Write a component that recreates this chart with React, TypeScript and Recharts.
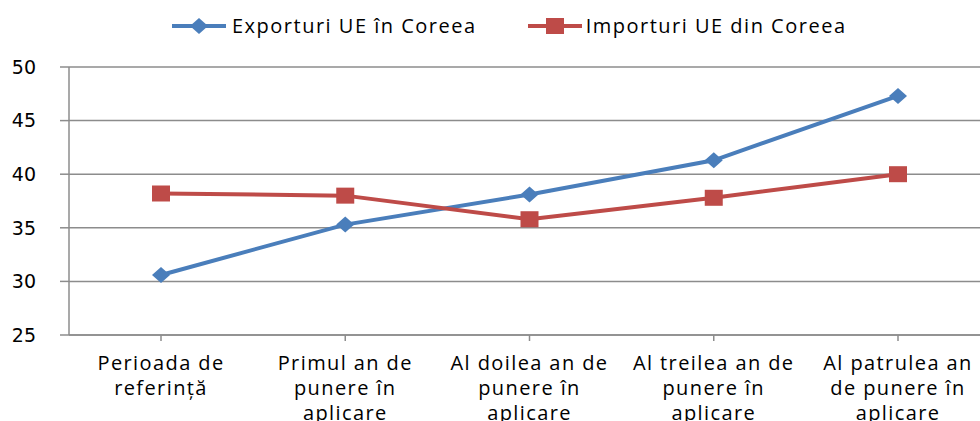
import { LineChart, Line, XAxis, YAxis, CartesianGrid } from 'recharts';

// Categories (x axis labels, split into lines as in the original)
const categories = [
  'Perioada de referință',
  'Primul an de punere în aplicare',
  'Al doilea an de punere în aplicare',
  'Al treilea an de punere în aplicare',
  'Al patrulea an de punere în aplicare',
];
const categoryLines = [
  ['Perioada de', 'referință'],
  ['Primul an de', 'punere în', 'aplicare'],
  ['Al doilea an de', 'punere în', 'aplicare'],
  ['Al treilea an de', 'punere în', 'aplicare'],
  ['Al patrulea an', 'de punere în', 'aplicare'],
];

const exportValues = [30.6, 35.3, 38.1, 41.3, 47.3];
const importValues = [38.2, 38.0, 35.8, 37.8, 40.0];

const yTicks = [25, 30, 35, 40, 45, 50];

const seriesNames = ['Exporturi UE în Coreea', 'Importuri UE din Coreea'];

const BLUE = '#4A7EBB';
const RED = '#BE4B48';
const GRID = '#8C8C8C';
const LABEL_FONT = '"Open Sans", sans-serif';

const chartData = categories.map((name, i) => ({
  name,
  exports: exportValues[i],
  imports: importValues[i],
}));

const Diamond = ({ cx, cy }: any) => (
  <path d={`M${cx},${cy - 8} L${cx + 9},${cy} L${cx},${cy + 8} L${cx - 9},${cy} Z`} fill={BLUE} />
);

const Square = ({ cx, cy }: any) => <rect x={cx - 9} y={cy - 8} width={18} height={16} fill={RED} />;

const CategoryTick = ({ x, y, index }: any) => {
  const lines = categoryLines[index] || [];
  return (
    <text
      x={x}
      y={y}
      textAnchor="middle"
      fontFamily={LABEL_FONT}
      fontSize={20}
      letterSpacing={1.4}
      fill="#000"
    >
      {lines.map((l, i) => (
        <tspan key={i} x={x} dy={i === 0 ? 27 : 25}>
          {l}
        </tspan>
      ))}
    </text>
  );
};

const Legend = () => (
  <div
    style={{
      position: 'absolute',
      top: 12,
      left: 171,
      display: 'flex',
      fontFamily: LABEL_FONT,
      fontSize: 20,
      letterSpacing: 1.5,
      color: '#000',
      whiteSpace: 'nowrap',
    }}
  >
    <div style={{ display: 'flex', alignItems: 'center' }}>
      <svg width={56} height={20}>
        <line x1={1} y1={10} x2={55} y2={10} stroke={BLUE} strokeWidth={4} />
        <Diamond cx={28} cy={10} />
      </svg>
      <span style={{ marginLeft: 5 }}>{seriesNames[0]}</span>
    </div>
    <div style={{ display: 'flex', alignItems: 'center', marginLeft: 50 }}>
      <svg width={56} height={20}>
        <line x1={1} y1={10} x2={55} y2={10} stroke={RED} strokeWidth={4} />
        <Square cx={28} cy={10} />
      </svg>
      <span style={{ marginLeft: 3 }}>{seriesNames[1]}</span>
    </div>
  </div>
);

export default function App() {
  return (
    <div
      style={{
        position: 'absolute',
        top: 0,
        left: 0,
        width: 980,
        height: 421,
        overflow: 'hidden',
        background: '#fff',
      }}
    >
      <Legend />
      <LineChart
        width={990}
        height={421}
        data={chartData}
        margin={{ top: 67, right: 0, left: 0, bottom: 0 }}
      >
        <CartesianGrid vertical={false} stroke={GRID} strokeWidth={1.5} />
        <XAxis
          dataKey="name"
          interval={0}
          height={86}
          padding={{ left: 92, right: 92 }}
          axisLine={{ stroke: GRID, strokeWidth: 1.5 }}
          tickLine={{ stroke: GRID, strokeWidth: 1.5 }}
          tickSize={6}
          tick={<CategoryTick />}
        />
        <YAxis
          domain={[25, 50]}
          ticks={yTicks}
          width={69}
          axisLine={{ stroke: GRID, strokeWidth: 1.5 }}
          tickLine={{ stroke: GRID, strokeWidth: 1.5 }}
          tickSize={9}
          tickMargin={24}
          tick={{ fill: '#000', fontSize: 19, fontFamily: 'DejaVu Sans' }}
        />
        <Line
          dataKey="exports"
          stroke={BLUE}
          strokeWidth={4}
          dot={<Diamond />}
          activeDot={false}
          isAnimationActive={false}
        />
        <Line
          dataKey="imports"
          stroke={RED}
          strokeWidth={4}
          dot={<Square />}
          activeDot={false}
          isAnimationActive={false}
        />
      </LineChart>
    </div>
  );
}
